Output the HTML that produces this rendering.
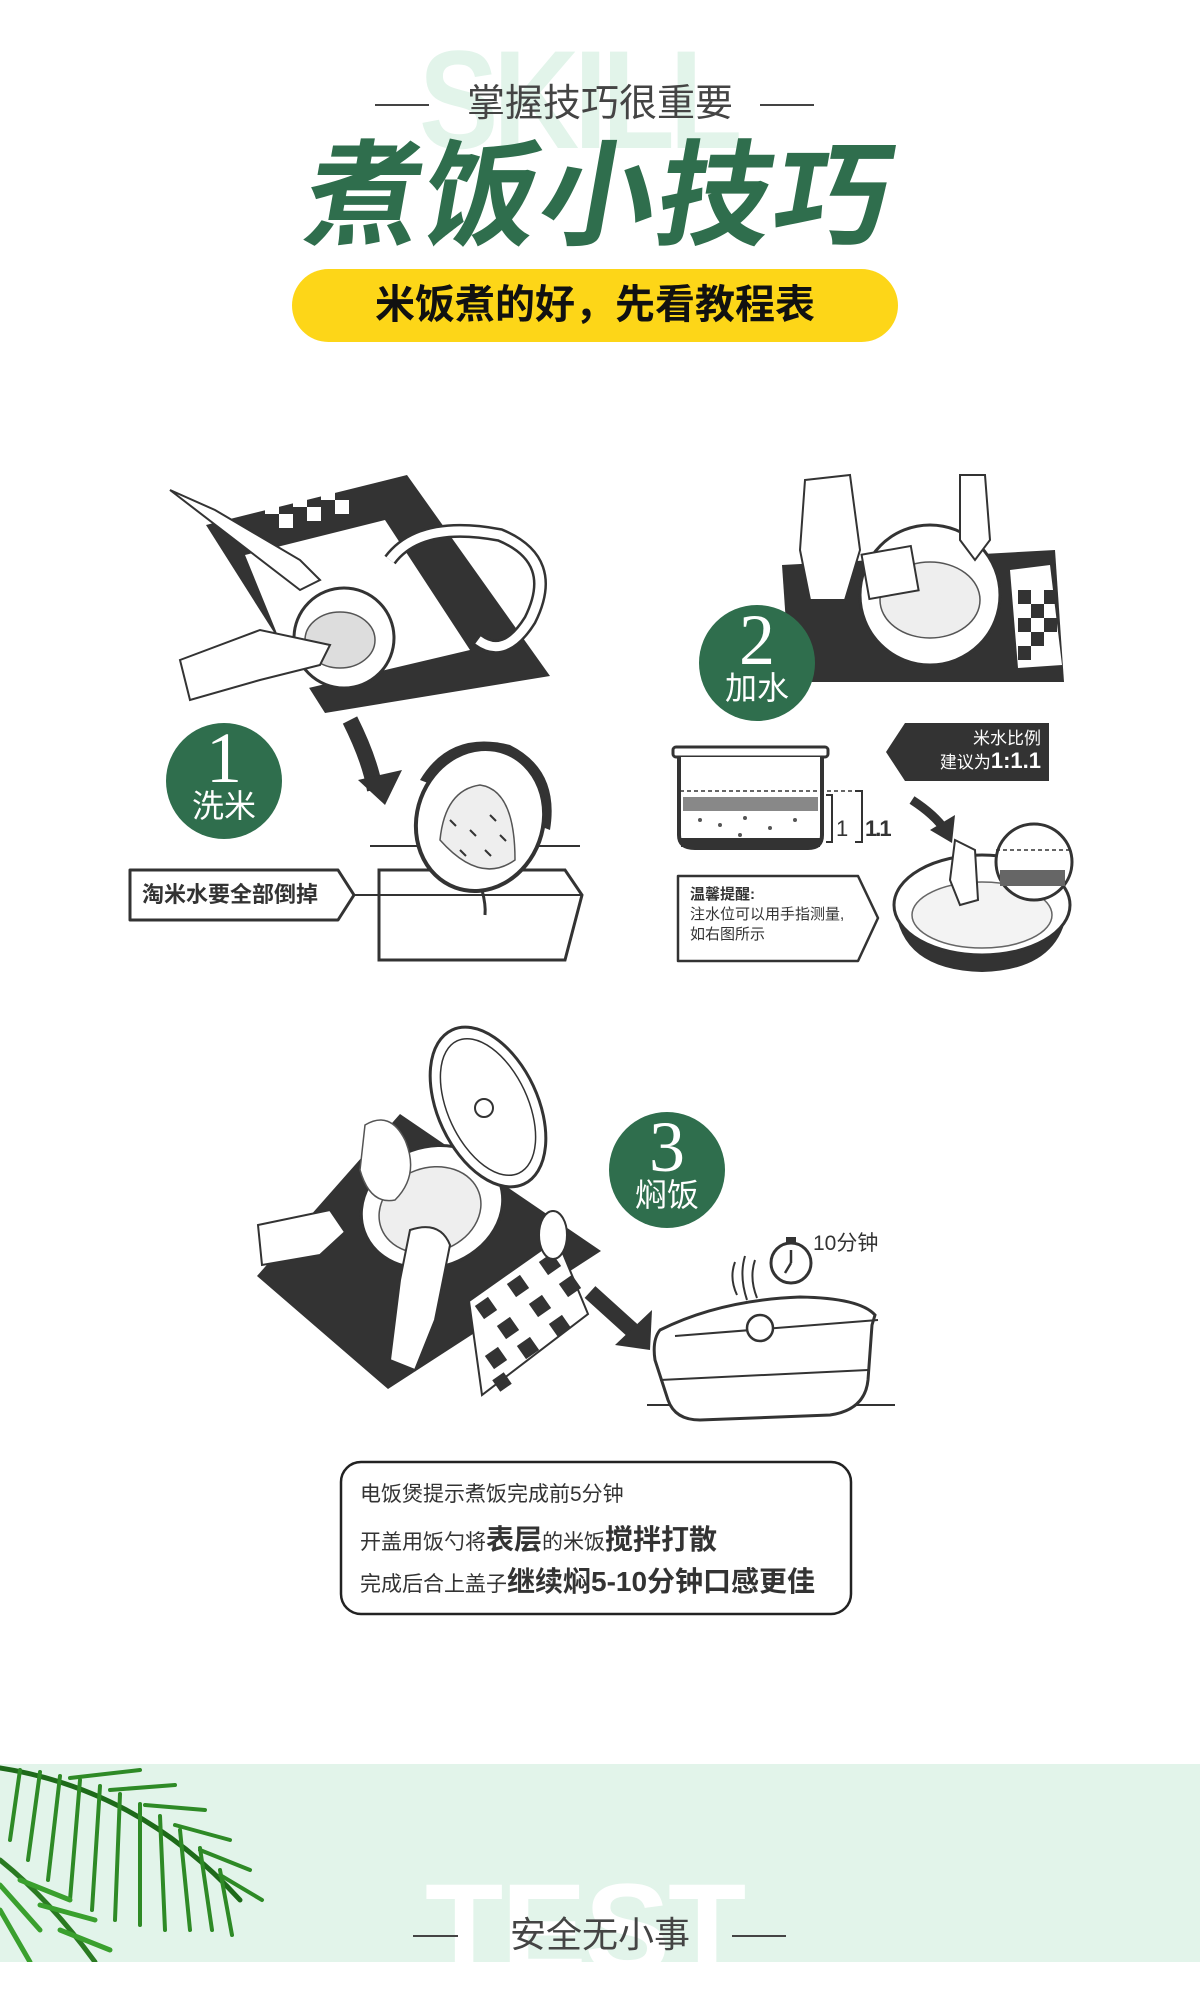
<!DOCTYPE html>
<html><head><meta charset="utf-8">
<style>
html,body{margin:0;padding:0;background:#fff;}
body{width:1200px;height:1962px;position:relative;overflow:hidden;font-family:"Liberation Sans","Noto Sans CJK SC",sans-serif;}
.abs{position:absolute;}
.wm{font-family:"Liberation Sans",sans-serif;font-weight:bold;color:#e2f4ea;}
</style></head><body>
<div class="abs wm" style="left:419px;top:30px;font-size:140px;letter-spacing:-6px;line-height:140px;transform:scaleX(0.85);transform-origin:left top;">SKILL</div>
<div class="abs" style="left:375px;top:104px;width:54px;height:2px;background:#444"></div>
<div class="abs" style="left:760px;top:104px;width:54px;height:2px;background:#444"></div>
<div class="abs" style="left:440px;top:80px;width:320px;text-align:center;font-size:38px;line-height:48px;color:#444;">掌握技巧很重要</div>
<div class="abs" style="left:250px;top:130px;width:700px;text-align:center;font-size:115px;line-height:135px;font-weight:bold;color:#2f6e4d;transform:skewX(-10deg);letter-spacing:2px;">煮饭小技巧</div>
<div class="abs" style="left:292px;top:269px;width:606px;height:73px;border-radius:37px;background:#fdd618;"></div>
<div class="abs" style="left:292px;top:269px;width:606px;height:73px;line-height:73px;text-align:center;font-size:40px;font-weight:bold;color:#111;">米饭煮的好，先看教程表</div>

<svg class="abs" style="left:0;top:0" width="1200" height="1962" viewBox="0 0 1200 1962">
<!-- Step 1 sink -->
<polygon points="206,525 407,475 550,676 325,713" fill="#333"/>
<polygon points="245,555 385,520 470,650 300,690" fill="#fff"/>
<g fill="#fff"><rect x="265" y="500" width="14" height="14"/><rect x="293" y="493" width="14" height="14"/><rect x="321" y="486" width="14" height="14"/><rect x="279" y="514" width="14" height="14"/><rect x="307" y="507" width="14" height="14"/><rect x="335" y="500" width="14" height="14"/></g>
<path d="M390,560 Q420,520 500,535 Q560,560 530,620 Q505,660 478,640" fill="none" stroke="#333" stroke-width="14"/>
<path d="M390,560 Q420,520 500,535 Q560,560 530,620 Q505,660 478,640" fill="none" stroke="#fff" stroke-width="9"/>
<circle cx="344" cy="638" r="50" fill="#fff" stroke="#333" stroke-width="3"/>
<ellipse cx="340" cy="640" rx="35" ry="28" fill="#ddd" stroke="#555" stroke-width="1.5"/>
<path d="M170,490 L215,510 L300,560 L320,580 L300,590 Z" fill="#fff" stroke="#333" stroke-width="2"/>
<path d="M180,660 L260,630 L330,645 L320,665 L260,680 L190,700 Z" fill="#fff" stroke="#333" stroke-width="2"/>
<!-- arrow 1 -->
<path d="M350,720 Q370,760 375,790" fill="none" stroke="#333" stroke-width="16"/>
<polygon points="358,780 402,770 385,805" fill="#333"/>
<!-- pot 1 -->
<line x1="370" y1="846" x2="580" y2="846" stroke="#333" stroke-width="2"/>
<polygon points="379,870 415,870 565,870 582,895 565,960 379,960" fill="#fff" stroke="#333" stroke-width="3"/>
<line x1="379" y1="895" x2="582" y2="895" stroke="#333" stroke-width="2"/>
<path d="M420,780 Q450,730 510,745 Q560,770 550,830" fill="#333"/>
<ellipse cx="480" cy="820" rx="63" ry="72" fill="#fff" stroke="#333" stroke-width="4" transform="rotate(20 480 820)"/>
<path d="M440,840 Q445,790 480,785 Q515,790 515,860 Q480,885 440,840Z" fill="#eee" stroke="#555" stroke-width="1.5"/>
<g stroke="#333" stroke-width="2"><line x1="450" y1="820" x2="456" y2="826"/><line x1="470" y1="830" x2="476" y2="836"/><line x1="490" y1="815" x2="496" y2="821"/><line x1="460" y1="850" x2="466" y2="856"/><line x1="485" y1="850" x2="491" y2="856"/><line x1="500" y1="835" x2="506" y2="841"/></g>
<path d="M482,890 Q486,905 485,915" stroke="#333" stroke-width="3" fill="none"/>
<!-- label 1 -->
<polygon points="130,870 338,870 354,895 338,920 130,920" fill="#fff" stroke="#333" stroke-width="3" stroke-linejoin="round"/>
<line x1="354" y1="895" x2="380" y2="895" stroke="#333" stroke-width="2"/>
<circle cx="224" cy="781" r="58" fill="#2f6e4d"/>

<!-- Step 2 -->
<polygon points="782,565 1055,550 1064,682 790,682" fill="#333"/>
<polygon points="1010,570 1050,565 1062,665 1018,668" fill="#fff"/>
<g fill="#333"><rect x="1018" y="590" width="13" height="14"/><rect x="1031" y="604" width="13" height="14"/><rect x="1018" y="618" width="13" height="14"/><rect x="1044" y="590" width="13" height="14"/><rect x="1031" y="632" width="13" height="14"/><rect x="1044" y="618" width="13" height="14"/><rect x="1018" y="646" width="13" height="14"/></g>
<circle cx="930" cy="595" r="70" fill="#fff" stroke="#333" stroke-width="3"/>
<ellipse cx="930" cy="600" rx="50" ry="38" fill="#eee" stroke="#555" stroke-width="1.5"/>
<path d="M805,480 L850,475 L860,550 L845,600 L810,600 L800,550 Z" fill="#fff" stroke="#333" stroke-width="2"/>
<path d="M960,475 L985,475 L990,540 L975,560 L960,540 Z" fill="#fff" stroke="#333" stroke-width="2"/>
<rect x="865" y="550" width="50" height="45" fill="#fff" stroke="#333" stroke-width="2" transform="rotate(-10 890 572)"/>
<circle cx="757" cy="663" r="58" fill="#2f6e4d"/>
<!-- pot diagram -->
<rect x="673" y="747" width="155" height="10" rx="3" fill="#fff" stroke="#333" stroke-width="3"/>
<path d="M679,757 L679,835 Q679,848 695,848 L808,848 Q822,848 822,835 L822,757" fill="#fff" stroke="#333" stroke-width="4"/>
<rect x="681" y="838" width="139" height="9" fill="#333"/>
<line x1="680" y1="791" x2="855" y2="791" stroke="#333" stroke-width="1.5" stroke-dasharray="4,3"/>
<rect x="683" y="797" width="135" height="14" fill="#888"/>
<g fill="#555"><circle cx="700" cy="820" r="2"/><circle cx="720" cy="825" r="2"/><circle cx="745" cy="818" r="2"/><circle cx="770" cy="828" r="2"/><circle cx="795" cy="820" r="2"/><circle cx="740" cy="835" r="2"/></g>
<path d="M826,795 L832,795 L832,842 L826,842" fill="none" stroke="#333" stroke-width="2"/>
<path d="M855,791 L862,791 L862,842 L855,842" fill="none" stroke="#333" stroke-width="2"/>
<text x="836" y="836" font-size="22" font-family="Liberation Sans" fill="#333">1</text>
<text x="865" y="836" font-size="22" font-weight="bold" font-family="Liberation Sans" fill="#333" letter-spacing="-2">1.1</text>
<path d="M912,800 Q935,815 945,830" stroke="#333" stroke-width="9" fill="none"/>
<polygon points="930,830 955,815 952,843" fill="#333"/>
<!-- round pot -->
<path d="M895,905 Q900,970 982,972 Q1062,970 1068,905 Z" fill="#333"/>
<ellipse cx="982" cy="905" rx="88" ry="50" fill="#fff" stroke="#333" stroke-width="3"/>
<ellipse cx="982" cy="915" rx="70" ry="33" fill="#f3f3f3" stroke="#666" stroke-width="1.5"/>
<path d="M955,840 L975,850 L978,900 L960,905 L950,880 Z" fill="#fff" stroke="#333" stroke-width="2"/>
<circle cx="1034" cy="862" r="38" fill="#fff" stroke="#333" stroke-width="3"/>
<line x1="996" y1="850" x2="1072" y2="850" stroke="#333" stroke-width="1.5" stroke-dasharray="4,3"/>
<rect x="1000" y="870" width="65" height="16" fill="#666"/>
<!-- dark label -->
<polygon points="905,723 1049,723 1049,781 905,781 886,752" fill="#333"/>
<polygon points="678,876 858,876 878,918 858,961 678,961" fill="#fff" stroke="#333" stroke-width="2.5" stroke-linejoin="round"/>

<!-- Step 3 -->
<polygon points="400,1114 601,1251 388,1389 257,1276" fill="#333"/>
<polygon points="469,1301 557,1239 588,1314 482,1395" fill="#fff" stroke="#333" stroke-width="2"/>
<g fill="#333">
<rect x="478" y="1300" width="16" height="16" transform="rotate(-35 486 1308)"/>
<rect x="510" y="1278" width="16" height="16" transform="rotate(-35 518 1286)"/>
<rect x="542" y="1256" width="16" height="16" transform="rotate(-35 550 1264)"/>
<rect x="500" y="1320" width="16" height="16" transform="rotate(-35 508 1328)"/>
<rect x="532" y="1298" width="16" height="16" transform="rotate(-35 540 1306)"/>
<rect x="562" y="1278" width="16" height="16" transform="rotate(-35 570 1286)"/>
<rect x="488" y="1350" width="16" height="16" transform="rotate(-35 496 1358)"/>
<rect x="520" y="1340" width="16" height="16" transform="rotate(-35 528 1348)"/>
<rect x="552" y="1318" width="16" height="16" transform="rotate(-35 560 1326)"/>
<rect x="495" y="1375" width="14" height="14" transform="rotate(-35 502 1382)"/>
</g>
<ellipse cx="432" cy="1207" rx="72" ry="60" fill="#fff" stroke="#333" stroke-width="3" transform="rotate(-20 432 1207)"/>
<ellipse cx="430" cy="1210" rx="52" ry="42" fill="#eee" stroke="#555" stroke-width="1.5" transform="rotate(-20 430 1210)"/>
<ellipse cx="488" cy="1107" rx="50" ry="85" fill="#fff" stroke="#333" stroke-width="3" transform="rotate(-25 488 1107)"/>
<ellipse cx="488" cy="1107" rx="40" ry="73" fill="none" stroke="#333" stroke-width="1.5" transform="rotate(-25 488 1107)"/>
<circle cx="484" cy="1108" r="9" fill="none" stroke="#333" stroke-width="2"/>
<path d="M365,1125 Q390,1110 405,1140 Q420,1175 395,1200 Q370,1205 360,1170 Z" fill="#fff" stroke="#555" stroke-width="1.5"/>
<path d="M258,1225 L330,1210 L345,1232 L320,1255 L262,1265 Z" fill="#fff" stroke="#333" stroke-width="2"/>
<path d="M410,1230 Q440,1220 450,1245 L435,1320 L415,1370 L390,1360 L400,1280 Z" fill="#fff" stroke="#333" stroke-width="2"/>
<ellipse cx="553" cy="1235" rx="14" ry="24" fill="#fff" stroke="#333" stroke-width="2"/>
<circle cx="667" cy="1170" r="58" fill="#2f6e4d"/>
<!-- arrow 3 -->
<line x1="590" y1="1292" x2="632" y2="1330" stroke="#333" stroke-width="16"/>
<polygon points="615,1345 652,1310 650,1350" fill="#333"/>
<!-- rice cooker -->
<line x1="647" y1="1405" x2="895" y2="1405" stroke="#333" stroke-width="2"/>
<path d="M660,1330 Q720,1300 800,1297 Q860,1298 875,1315 L872,1325 L868,1380 Q865,1410 830,1415 L700,1420 Q675,1420 668,1400 L655,1360 Q652,1340 660,1330Z" fill="#fff" stroke="#333" stroke-width="3"/>
<line x1="660" y1="1380" x2="868" y2="1370" stroke="#333" stroke-width="2"/>
<line x1="675" y1="1336" x2="878" y2="1320" stroke="#333" stroke-width="2"/>
<circle cx="760" cy="1328" r="13" fill="#fff" stroke="#333" stroke-width="2.5"/>
<circle cx="791" cy="1263" r="20" fill="#fff" stroke="#333" stroke-width="3"/>
<line x1="791" y1="1263" x2="791" y2="1250" stroke="#333" stroke-width="2.5"/><line x1="791" y1="1263" x2="785" y2="1273" stroke="#333" stroke-width="2.5"/>
<rect x="786" y="1237" width="10" height="5" fill="#333"/>
<path d="M735,1262 Q729,1278 737,1295 M745,1256 Q739,1276 747,1300 M755,1260 Q749,1278 757,1298" fill="none" stroke="#333" stroke-width="2"/>
<text x="813" y="1250" font-size="21" fill="#333" font-family="Liberation Sans,Noto Sans CJK SC,sans-serif">10分钟</text>

<!-- bottom box -->
<rect x="341" y="1462" width="510" height="152" rx="20" fill="#fff" stroke="#222" stroke-width="2.5"/>

<!-- bottom band -->
<rect x="0" y="1764" width="1200" height="198" fill="#e2f4ea"/>
<g stroke="#2e8a26" stroke-width="4" fill="none" stroke-linecap="round">
<path d="M0,1768 Q140,1790 240,1900" stroke="#1e6a1a" stroke-width="5"/>
<path d="M20,1770 L10,1840"/><path d="M40,1772 L28,1860"/><path d="M60,1776 L48,1880"/><path d="M80,1780 L70,1900"/><path d="M100,1786 L92,1910"/><path d="M120,1794 L115,1920"/><path d="M140,1804 L140,1925"/><path d="M160,1816 L165,1930"/><path d="M180,1830 L190,1930"/><path d="M200,1848 L212,1930"/><path d="M220,1870 L232,1935"/>
<path d="M70,1778 L140,1770"/><path d="M110,1790 L175,1785"/><path d="M145,1805 L205,1810"/><path d="M175,1825 L230,1840"/><path d="M200,1850 L250,1870"/><path d="M220,1875 L262,1900"/>
</g>
<g stroke="#3aa02e" stroke-width="5" fill="none" stroke-linecap="round">
<path d="M0,1860 Q50,1900 95,1962" stroke="#2a7a22"/>
<path d="M0,1885 L40,1930"/><path d="M0,1910 L30,1962"/><path d="M20,1880 L70,1900"/><path d="M40,1905 L95,1920"/><path d="M60,1930 L110,1950"/>
</g>
</svg>

<div class="abs" style="left:152px;top:722px;width:144px;text-align:center;color:#fff;font-family:'Liberation Serif',serif;font-size:72px;line-height:72px;">1</div>
<div class="abs" style="left:152px;top:788px;width:144px;text-align:center;color:#fff;font-size:32px;line-height:36px;">洗米</div>
<div class="abs" style="left:685px;top:604px;width:144px;text-align:center;color:#fff;font-family:'Liberation Serif',serif;font-size:72px;line-height:72px;">2</div>
<div class="abs" style="left:685px;top:670px;width:144px;text-align:center;color:#fff;font-size:32px;line-height:36px;">加水</div>
<div class="abs" style="left:595px;top:1111px;width:144px;text-align:center;color:#fff;font-family:'Liberation Serif',serif;font-size:72px;line-height:72px;">3</div>
<div class="abs" style="left:595px;top:1177px;width:144px;text-align:center;color:#fff;font-size:32px;line-height:36px;">焖饭</div>

<div class="abs" style="left:142px;top:880px;font-size:22px;font-weight:bold;color:#333;line-height:30px;">淘米水要全部倒掉</div>
<div class="abs" style="left:905px;top:728px;width:136px;text-align:right;font-size:17px;color:#fff;line-height:22px;">米水比例<br>建议为<b style="font-size:22px">1:1.1</b></div>
<div class="abs" style="left:690px;top:885px;font-size:15px;color:#333;line-height:20px;"><b>温馨提醒:</b><br>注水位可以用手指测量,<br>如右图所示</div>

<div class="abs" style="left:360px;top:1480px;font-size:21px;color:#333;line-height:30px;">电饭煲提示煮饭完成前5分钟</div>
<div class="abs" style="left:360px;top:1522px;font-size:21px;color:#333;line-height:36px;">开盖用饭勺将<b style="font-size:28px">表层</b>的米饭<b style="font-size:28px">搅拌打散</b></div>
<div class="abs" style="left:360px;top:1564px;font-size:21px;color:#333;line-height:36px;">完成后合上盖子<b style="font-size:28px">继续焖5-10分钟口感更佳</b></div>

<div class="abs" style="left:425px;top:1866px;font-size:128px;font-weight:bold;color:#fff;line-height:128px;letter-spacing:-2px;">TEST</div>
<div class="abs" style="left:413px;top:1935px;width:45px;height:2px;background:#444"></div>
<div class="abs" style="left:732px;top:1935px;width:54px;height:2px;background:#444"></div>
<div class="abs" style="left:480px;top:1912px;width:240px;text-align:center;font-size:36px;line-height:46px;color:#444;">安全无小事</div>
</body></html>
